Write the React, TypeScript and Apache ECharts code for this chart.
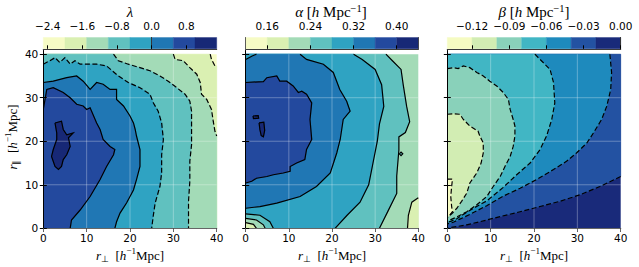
import React, { useEffect, useRef } from "react";
import * as echarts from "echarts";

type Contour = { lv: number; bin: number; pts: number[][]; close: number[][]; ring?: boolean };

// ---------- axes ----------
const X_TICKS = [0, 10, 20, 30, 40];
const Y_TICKS = [0, 10, 20, 30, 40];
const GRID_VALUES = [10, 20, 30];
const FIELD_MIN = 0;
const FIELD_MAX = 40;
const Y_AXIS_MAX = 40.8;

// ---------- colour bars ----------
const LAMBDA_LEVELS = [-2.5, -2.0, -1.5, -1.0, -0.5, 0.0, 0.5, 1.0, 1.5];
const LAMBDA_TICKS = [-2.4, -1.6, -0.8, 0.0, 0.8];
const ALPHA_LEVELS = [0.12, 0.16, 0.2, 0.24, 0.28, 0.32, 0.36, 0.4, 0.44];
const ALPHA_TICKS = [0.16, 0.24, 0.32, 0.4];
const BETA_LEVELS = [-0.14, -0.12, -0.1, -0.08, -0.06, -0.04, -0.02, 0.0];
const BETA_TICKS = [-0.12, -0.09, -0.06, -0.03, 0.0];

const COLORS8 = ["#f6fbc5", "#daf0b2", "#a3dbb7", "#60c1bf", "#2fa3c2", "#2077b4", "#23499e", "#172876"];
const COLORS7 = ["#f5fbc2", "#d2edb3", "#89d1ba", "#41b6c4", "#1e8abd", "#2352a2", "#192a7a"];

// ---------- contour lines (x = r_perp, y = r_par) ----------
const LAMBDA_BG = 0;
const LAMBDA_CONTOURS: Contour[] = [
  { lv: -2.0, bin: 1, pts: [[38.5, 40], [38.8, 38.8], [39.6, 37.3], [40, 37.3]], close: [[40, 0], [0, 0], [0, 40]] },
  {
    lv: -1.5, bin: 2,
    pts: [[30, 40], [30.4, 38.8], [32.3, 38.5], [33.8, 36.9], [35.4, 35.4], [36.2, 33.5], [36.5, 30.8], [37.7, 29.6], [38.8, 27.3], [39.2, 24.6], [39.6, 22.3], [40, 21.2]],
    close: [[40, 0], [0, 0], [0, 40]],
  },
  {
    lv: -1.0, bin: 3,
    pts: [[16.2, 40], [17.3, 38.5], [19.6, 37.7], [22.3, 36.9], [24.6, 36.2], [26.9, 35], [28.8, 33.8], [30.8, 32.3], [32.7, 30.8], [33.8, 29.2], [34.2, 26.9], [34.2, 23.1], [34.2, 19.2], [33.8, 15.4], [33.8, 10.8], [33.5, 6.2], [33.5, 0]],
    close: [[0, 0], [0, 40]],
  },
  {
    lv: -0.5, bin: 4,
    pts: [[0, 37.7], [1.5, 38.5], [2.7, 39.2], [3.8, 38.1], [5, 39.2], [6.2, 37.7], [7.3, 38.5], [8.5, 37.7], [10, 37.7], [12.3, 37.7], [14.6, 37.3], [17.3, 35], [19.6, 33.5], [22.3, 32.3], [24.6, 30.8], [25.4, 28.8], [26.5, 26.9], [27.3, 24.2], [27.7, 20.4], [27.3, 16.9], [27.3, 12.7], [26.9, 9.6], [25.8, 5.8], [25.4, 3.1], [25, 0]],
    close: [[0, 0]],
  },
  {
    lv: 0.0, bin: 5,
    pts: [[0, 33.5], [2.3, 33.8], [5.4, 34.6], [7.7, 35], [9.2, 33.8], [10.8, 31.9], [12.3, 33.5], [13.8, 33.1], [15.4, 31.9], [16.9, 31.9], [16.9, 29.6], [18.5, 28.1], [20, 25.8], [20.8, 24.2], [21.2, 22.7], [21.5, 21.2], [22.3, 18.1], [22.3, 14.2], [21.5, 11.2], [20.8, 8.8], [19.2, 5.8], [17.7, 3.5], [16.9, 1.5], [16.5, 0]],
    close: [[0, 0]],
  },
  {
    lv: 0.5, bin: 6,
    pts: [[0, 27.3], [0.8, 31.9], [2.3, 32.3], [4.6, 31.2], [6.2, 30], [7.7, 28.5], [9.2, 28.1], [10, 27.3], [10.8, 27.7], [12.3, 24.2], [13.1, 22.7], [13.8, 20.4], [15.4, 18.8], [16.5, 18.1], [16.2, 16.9], [14.6, 14.2], [13.1, 11.2], [10.8, 7.3], [8.5, 4.2], [6.5, 1.9], [6.2, 0]],
    close: [[0, 0]],
  },
  {
    lv: 1.0, bin: 7, ring: true,
    pts: [[2.7, 24.2], [4.2, 24.6], [4.6, 22.7], [5.4, 21.5], [6.9, 21.9], [5.8, 20.8], [6.2, 18.8], [5.4, 16.9], [4.6, 15.8], [4.2, 14.2], [3.5, 13.5], [2.7, 14.2], [1.9, 16.5], [2.3, 18.1], [3.1, 20.4], [3.1, 21.9]],
    close: [],
  },
];

const ALPHA_BG = 2;
const ALPHA_CONTOURS: Contour[] = [
  {
    lv: 0.24, bin: 3,
    pts: [[32.5, 40], [34, 38.5], [36, 36.5], [36.5, 33], [37.3, 28], [38, 24.5], [37, 22], [35.5, 21], [35.5, 18], [35, 12], [35, 8], [33, 4], [31, 0]],
    close: [[0, 0], [0, 40]],
  },
  {
    lv: 0.28, bin: 4,
    pts: [[25, 40], [27, 38.8], [30, 36.5], [31.5, 33], [32, 28], [31, 24], [30.5, 20], [29.5, 15], [28.5, 10], [26.5, 6], [23.5, 3], [20.7, 0]],
    close: [[0, 0], [0, 40]],
  },
  {
    lv: 0.32, bin: 5,
    pts: [[12.6, 40], [14.1, 38.8], [18, 37.7], [20.3, 35.8], [21.8, 31.9], [23.4, 29.2], [24.2, 26.9], [22.6, 25], [21.9, 20.4], [21.1, 17.3], [19.6, 12.7], [16.4, 9.6], [12.6, 7.3], [7.2, 5.8], [3.3, 5], [0, 4.6]],
    close: [[0, 40]],
  },
  {
    lv: 0.36, bin: 6,
    pts: [[0, 33.5], [4.1, 33.7], [4.9, 34.6], [7.2, 35], [7.9, 33.8], [9.5, 33.8], [11, 32.7], [12.2, 31.2], [13, 31.5], [14.1, 30.8], [15.3, 28.8], [14.9, 25], [15.3, 20.4], [14.1, 18.1], [13.7, 15.8], [11.8, 15], [10.3, 14.2], [10.3, 13.1], [8.7, 12.7], [6.4, 12.3], [4.9, 11.9], [2.5, 11.5], [1.4, 10.8], [0, 10.4]],
    close: [],
  },
  { lv: 0.4, bin: 7, ring: true, pts: [[1.7, 25.8], [2.9, 25.9], [3, 25.3], [1.8, 25.2]], close: [] },
  { lv: 0.4, bin: 7, ring: true, pts: [[3.1, 24.2], [4.2, 24.4], [4.4, 22.5], [4.1, 21], [3.6, 21.3], [3.3, 22.6]], close: [] },
  { lv: 0.28, bin: 3, pts: [[0, 3.3], [3.3, 3], [5.6, 1.5], [6.4, 0]], close: [[0, 0]] },
  { lv: 0.24, bin: 2, pts: [[0, 2.3], [2.5, 1.9], [4.1, 0.8], [4.5, 0]], close: [[0, 0]] },
  { lv: 0.2, bin: 1, pts: [[0, 1.3], [1.8, 0.9], [2.5, 0]], close: [[0, 0]] },
  { lv: 0.32, bin: 4, pts: [[0, 38.8], [1.5, 39.6], [2.5, 40]], close: [[0, 40]] },
  { lv: 0.2, bin: 1, pts: [[37.5, 0], [37.7, 3], [38.5, 6], [40, 7]], close: [[40, 0]] },
  { lv: 0.24, bin: 3, ring: true, pts: [[35.6, 17.1], [36, 17.5], [36.4, 17.1], [36, 16.7]], close: [] },
];

const BETA_BG = 6;
const BETA_CONTOURS: Contour[] = [
  {
    lv: -0.02, bin: 5,
    pts: [[40, 11.9], [35.2, 9.6], [30.6, 7.7], [26, 6.2], [21.4, 5], [16.8, 3.8], [12.2, 2.7], [7.5, 1.5], [4.5, 0.8], [2.2, 0.4], [0.6, 0.15], [0.2, 0]],
    close: [[0, 0], [0, 40], [40, 40]],
  },
  {
    lv: -0.04, bin: 4,
    pts: [[37.5, 40], [37.9, 35.8], [37.7, 31.9], [36.8, 28.1], [35.6, 25], [33.7, 21.9], [32.2, 19.6], [29.8, 17.3], [27.5, 15.4], [24.5, 13.5], [20.6, 11.2], [16.8, 9.2], [12.9, 7.4], [9.1, 5.2], [5.2, 3.2], [2.9, 2.1], [1.4, 1.4], [0, 1.0]],
    close: [[0, 40]],
  },
  {
    lv: -0.06, bin: 3,
    pts: [[20.2, 40], [21.4, 38.8], [23.7, 36.5], [24.5, 33.5], [24.8, 28.8], [24.1, 25], [22.9, 21.2], [21.4, 18.1], [19.1, 15], [16, 12.3], [12.9, 9.4], [9.1, 6.3], [6, 4.6], [3.7, 3.2], [2.2, 2.2], [0.8, 1.6], [0, 1.4]],
    close: [[0, 40]],
  },
  {
    lv: -0.08, bin: 2,
    pts: [[0, 36.7], [1.4, 36.9], [2.5, 36.7], [3.7, 37.3], [5.2, 36.9], [6.8, 35.8], [8.3, 35], [9.8, 33.8], [11.4, 32.7], [12.9, 31.2], [14.1, 29.6], [14.5, 27.3], [15.2, 25], [15.6, 23.5], [15.6, 21.2], [15.2, 18.8], [14.5, 16.5], [13.3, 14.2], [12.2, 11.9], [10.6, 9.6], [9.1, 7.3], [6.8, 5.4], [4.5, 3.8], [2.2, 2.6], [0.8, 2.0], [0, 1.8]],
    close: [],
  },
  {
    lv: -0.1, bin: 1,
    pts: [[0, 26.2], [1.4, 26.3], [2.9, 26.2], [3.7, 25], [5.2, 23.5], [7.1, 22.3], [7.5, 21.2], [8.3, 19.6], [8.3, 17.3], [7.8, 15], [6.8, 12.7], [5.2, 10.4], [4.5, 8.1], [3.3, 6.2], [2.2, 4.6], [1.2, 3.5], [0.5, 2.9], [0, 2.5]],
    close: [],
  },
  {
    lv: -0.12, bin: 0,
    pts: [[0, 11.2], [0.2, 11.3], [1.2, 11.3], [1, 9.6], [0.8, 7.3], [1, 5], [1.2, 3.8], [0.6, 3.1], [0, 3.0]],
    close: [],
  },
];

// ---------- layout ----------
const PANELS = [
  { left: 43.3, width: 173.4, center: 130 },
  { left: 245.7, width: 172.6, center: 331 },
  { left: 447.3, width: 173.4, center: 534 },
];
const PLOT_TOP = 50.7;
const PLOT_H = 177.6;
const CB_TOP = 37.5;
const CB_H = 11.3;

const TICK_FONT = { fontFamily: "DejaVu Sans", fontSize: 10.5, color: "#000" };
const SERIF = "Liberation Serif";

const minus = (s: string) => s.replace("-", "\u2212");
const fmt = (d: number) => (v: number) => (Math.abs(v) < 1e-9 ? (0).toFixed(d) : minus(v.toFixed(d)));

function plotRender(colors: string[], bg: number, contours: Contour[]) {
  return (_params: any, api: any) => {
    const c = (p: number[]) => api.coord(p);
    const a = FIELD_MIN, b = FIELD_MAX;
    const kids: any[] = [];
    kids.push({ type: "polygon", shape: { points: [[a, a], [b, a], [b, b], [a, b]].map(c) }, style: { fill: colors[bg] } });
    contours.forEach((ct) => {
      kids.push({
        type: "polygon",
        shape: { points: ct.pts.concat(ct.close).map(c) },
        style: { fill: colors[ct.bin], stroke: colors[ct.bin], lineWidth: 0.6 },
      });
    });
    GRID_VALUES.forEach((v) => {
      const p1 = c([v, a]), p2 = c([v, b]);
      kids.push({ type: "line", shape: { x1: p1[0], y1: p1[1], x2: p2[0], y2: p2[1] }, style: { stroke: "rgba(255,255,255,0.3)", lineWidth: 1 } });
      const q1 = c([a, v]), q2 = c([b, v]);
      kids.push({ type: "line", shape: { x1: q1[0], y1: q1[1], x2: q2[0], y2: q2[1] }, style: { stroke: "rgba(255,255,255,0.3)", lineWidth: 1 } });
    });
    contours.forEach((ct) => {
      const pts = ct.pts.map(c);
      if (ct.ring) pts.push(pts[0]);
      kids.push({
        type: "polyline",
        shape: { points: pts },
        style: { stroke: "#000", lineWidth: 1.2, fill: null, lineDash: ct.lv < 0 ? [5, 2.5] : null },
      });
    });
    return { type: "group", children: kids };
  };
}

function cbRender(colors: string[]) {
  return (_params: any, api: any) => {
    const lo = api.value(0), hi = api.value(1), idx = api.value(2);
    const p0 = api.coord([lo, 1]);
    const p1 = api.coord([hi, 0]);
    return {
      type: "rect",
      shape: { x: p0[0], y: p0[1], width: p1[0] - p0[0], height: p1[1] - p0[1] },
      style: { fill: colors[idx], stroke: colors[idx], lineWidth: 0.4 },
    };
  };
}

const richBase = (size: number) => ({
  n: { fontFamily: SERIF, fontSize: size, color: "#000", lineHeight: size + 4, verticalAlign: "middle" },
  i: { fontFamily: SERIF, fontStyle: "italic", fontSize: size, color: "#000", lineHeight: size + 4, verticalAlign: "middle" },
  sup: { fontFamily: SERIF, fontSize: size * 0.7, color: "#000", lineHeight: size * 0.7, verticalAlign: "top" },
  sub: { fontFamily: SERIF, fontSize: size * 0.7, color: "#000", lineHeight: size * 0.7, verticalAlign: "bottom" },
});

export default function App() {
  const ref = useRef<HTMLDivElement>(null);
  useEffect(() => {
    if (!ref.current) return;
    const chart = echarts.init(ref.current, null, { renderer: "svg" });
    const panels = [
      { colors: COLORS8, bg: LAMBDA_BG, contours: LAMBDA_CONTOURS, levels: LAMBDA_LEVELS, ticks: LAMBDA_TICKS, f: fmt(1) },
      { colors: COLORS8, bg: ALPHA_BG, contours: ALPHA_CONTOURS, levels: ALPHA_LEVELS, ticks: ALPHA_TICKS, f: fmt(2) },
      { colors: COLORS7, bg: BETA_BG, contours: BETA_CONTOURS, levels: BETA_LEVELS, ticks: BETA_TICKS, f: fmt(2) },
    ];
    const grid: any[] = [];
    const xAxis: any[] = [];
    const yAxis: any[] = [];
    const series: any[] = [];
    const spine = { show: true, lineStyle: { color: "#000", width: 1 } };

    panels.forEach((p, i) => {
      const L = PANELS[i];
      const gPlot = grid.length;
      grid.push({ left: L.left, top: PLOT_TOP, width: L.width, height: PLOT_H });
      const gCb = grid.length;
      grid.push({ left: L.left, top: CB_TOP, width: L.width, height: CB_H });

      const xb = xAxis.length;
      xAxis.push({
        type: "value", gridIndex: gPlot, min: FIELD_MIN, max: FIELD_MAX, interval: 10, position: "bottom", z: 10,
        axisLine: spine, axisTick: { show: true, length: 3.5, lineStyle: { color: "#000" }, customValues: X_TICKS },
        axisLabel: { ...TICK_FONT, margin: 4.5, customValues: X_TICKS }, splitLine: { show: false },
      });
      xAxis.push({
        type: "value", gridIndex: gPlot, min: FIELD_MIN, max: FIELD_MAX, interval: 10, position: "top", z: 10,
        axisLine: { show: true, lineStyle: { color: "#666", width: 1 } },
        axisTick: { show: true, inside: true, length: 3.5, lineStyle: { color: "#666" }, customValues: X_TICKS },
        axisLabel: { show: false }, splitLine: { show: false },
      });
      const yl = yAxis.length;
      yAxis.push({
        type: "value", gridIndex: gPlot, min: FIELD_MIN, max: Y_AXIS_MAX, position: "left", z: 10,
        axisLine: spine, axisTick: { show: true, length: 3.5, lineStyle: { color: "#000" }, customValues: Y_TICKS },
        axisLabel: { show: i === 0, ...TICK_FONT, margin: 5, customValues: Y_TICKS }, splitLine: { show: false },
      });
      yAxis.push({
        type: "value", gridIndex: gPlot, min: FIELD_MIN, max: Y_AXIS_MAX, position: "right", z: 10,
        axisLine: spine, axisTick: { show: true, length: 3.5, lineStyle: { color: "#000" }, customValues: Y_TICKS },
        axisLabel: { show: false }, splitLine: { show: false },
      });
      series.push({
        type: "custom", xAxisIndex: xb, yAxisIndex: yl, clip: true, silent: true,
        renderItem: plotRender(p.colors, p.bg, p.contours), data: [[0, 0]],
      });

      const cbMin = p.levels[0], cbMax = p.levels[p.levels.length - 1];
      const xc = xAxis.length;
      xAxis.push({
        type: "value", gridIndex: gCb, min: cbMin, max: cbMax, position: "top", z: 10,
        axisLine: { show: true, lineStyle: { color: "#333", width: 0.8 } },
        axisTick: { show: true, length: 3.5, lineStyle: { color: "#000" }, customValues: p.ticks },
        axisLabel: { ...TICK_FONT, margin: 6, customValues: p.ticks, formatter: p.f }, splitLine: { show: false },
      });
      xAxis.push({
        type: "value", gridIndex: gCb, min: cbMin, max: cbMax, position: "bottom", z: 10,
        axisLine: { show: true, lineStyle: { color: "#333", width: 0.8 } },
        axisTick: { show: false }, axisLabel: { show: false }, splitLine: { show: false },
      });
      const yc = yAxis.length;
      yAxis.push({
        type: "value", gridIndex: gCb, min: 0, max: 1, position: "left", z: 10,
        axisLine: { show: true, lineStyle: { color: "#333", width: 0.8 } },
        axisTick: { show: false }, axisLabel: { show: false }, splitLine: { show: false },
      });
      yAxis.push({
        type: "value", gridIndex: gCb, min: 0, max: 1, position: "right", z: 10,
        axisLine: { show: true, lineStyle: { color: "#333", width: 0.8 } },
        axisTick: { show: false }, axisLabel: { show: false }, splitLine: { show: false },
      });
      series.push({
        type: "custom", xAxisIndex: xc, yAxisIndex: yc, clip: false, silent: true,
        renderItem: cbRender(p.colors),
        data: p.levels.slice(0, -1).map((lo, k) => [lo, p.levels[k + 1], k]),
      });
    });

    const titleRich = richBase(15);
    const labelRich = richBase(13);
    const titles = [
      "{i|λ}",
      "{i|α}{n| [}{i|h}{n| Mpc}{sup|−1}{n|]}",
      "{i|β}{n| [}{i|h}{n| Mpc}{sup|−1}{n|]}",
    ];
    const graphic: any[] = [];
    titles.forEach((t, i) => {
      graphic.push({
        type: "text", x: PANELS[i].center, y: 12,
        style: { text: t, rich: titleRich, align: "center", verticalAlign: "middle" },
      });
      graphic.push({
        type: "text", x: PANELS[i].left + PANELS[i].width / 2, y: 255,
        style: { text: "{i|r}{sub|⊥}{n|  [}{i|h}{sup|−1}{n|Mpc]}", rich: labelRich, align: "center", verticalAlign: "middle" },
      });
    });
    graphic.push({
      type: "text", x: 12, y: 137, rotation: Math.PI / 2,
      style: { text: "{i|r}{sub|∥}{n|  [}{i|h}{sup|−1}{n|Mpc]}", rich: labelRich, align: "center", verticalAlign: "middle" },
    });

    chart.setOption({ animation: false, grid, xAxis, yAxis, series, graphic });
    return () => chart.dispose();
  }, []);
  return <div ref={ref} style={{ position: "absolute", left: 0, top: 0, width: 639, height: 267 }} />;
}
